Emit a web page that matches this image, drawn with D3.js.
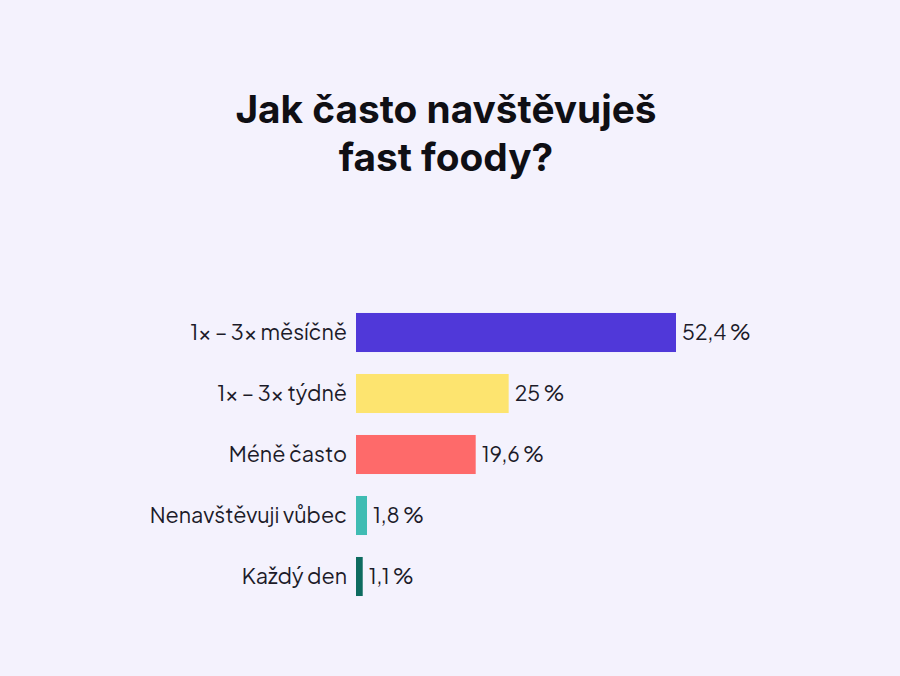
<!DOCTYPE html>
<html>
<head>
<meta charset="utf-8">
<script src="https://cdn.jsdelivr.net/npm/d3@7"></script>
<style>
  html, body { margin: 0; padding: 0; background: #f4f2fd; }
  svg { display: block; }
</style>
</head>
<body>
<svg id="chart" width="900" height="676"></svg>
<script>
// Survey answers, share of respondents in percent
const categories = ["1× – 3× měsíčně", "1× – 3× týdně", "Méně často", "Nenavštěvuji vůbec", "Každý den"];
const values = [52.4, 25, 19.6, 1.8, 1.1];
const valueLabels = ["52,4 %", "25 %", "19,6 %", "1,8 %", "1,1 %"];
const colors = ["#5038d9", "#fde46f", "#fe6a6a", "#3fbcb3", "#0d6b5f"];
const titleLines = ["Jak často navštěvuješ", "fast foody?"];

const svg = d3.select("#chart");
const W = 900, H = 676;

svg.append("rect").attr("width", W).attr("height", H).attr("fill", "#f4f2fd");

// Title
svg.append("g")
  .selectAll("text")
  .data(titleLines)
  .join("text")
  .attr("x", 446)
  .attr("y", (d, i) => 123 + i * 48)
  .attr("text-anchor", "middle")
  .attr("font-family", "Inter, 'Noto Sans', sans-serif")
  .attr("font-weight", 700)
  .attr("font-size", 38.8)
  .attr("fill", "#0f0f14")
  .text(d => d);

const x0 = 356;
const x = d3.scaleLinear().domain([0, 52.4]).range([x0, 676]);
const y = d3.scaleBand().domain(categories).range([302, 607]).paddingInner(0.36).paddingOuter(0.18);

const rows = svg.append("g")
  .selectAll("g")
  .data(categories.map((c, i) => ({ c, v: values[i], lab: valueLabels[i], col: colors[i] })))
  .join("g");

rows.append("rect")
  .attr("x", x0)
  .attr("y", d => y(d.c))
  .attr("width", d => x(d.v) - x0)
  .attr("height", y.bandwidth())
  .attr("fill", d => d.col);

const font = "'Plus Jakarta Sans', Inter, 'Noto Sans', sans-serif";

rows.append("text")
  .attr("x", x0 - 9)
  .attr("y", d => y(d.c) + y.bandwidth() / 2)
  .attr("dy", "0.35em")
  .attr("text-anchor", "end")
  .attr("font-family", font)
  .attr("font-size", 21.5)
  .attr("fill", "#1c1b29")
  .text(d => d.c);

rows.append("text")
  .attr("x", d => x(d.v) + 6)
  .attr("y", d => y(d.c) + y.bandwidth() / 2)
  .attr("dy", "0.35em")
  .attr("font-family", font)
  .attr("font-size", 21)
  .attr("fill", "#1c1b29")
  .text(d => d.lab);
</script>
</body>
</html>
